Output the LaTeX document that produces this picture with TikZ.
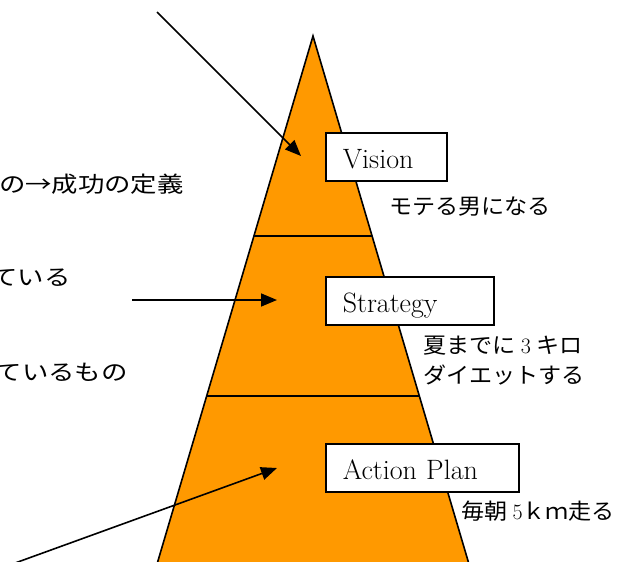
\documentclass[tikz,border=0pt]{standalone}
\usepackage{fontspec}
\newfontfamily\jfont[FakeStretch=1.05]{Noto Sans CJK JP}
\newfontfamily\jwide[FakeStretch=1.2]{Noto Sans CJK JP}
\usepackage{tikz}
\usetikzlibrary{calc}
\usetikzlibrary{arrows.meta}
\definecolor{pyramid}{RGB}{255,153,0}
\tikzset{levelbox/.style={draw, line width=1.6pt, fill=white, anchor=north west,
    align=left, inner xsep=17pt, inner ysep=10pt, text height=26pt, text depth=2pt,
    font=\fontsize{28}{32}\selectfont}}
\tikzset{note/.style={anchor=west, align=left, inner sep=0pt, font=\fontsize{22}{30}\jfont}}
\tikzset{side/.style={anchor=east, inner sep=0pt, font=\fontsize{22}{26}\jwide}}
\tikzset{pointer/.style={line width=1.6pt, -{Triangle[length=16pt,width=13pt]}}}

\begin{document}
\begin{tikzpicture}[x=1pt,y=-1pt]
  \useasboundingbox (0,0) rectangle (625,562);
  \clip (0,0) rectangle (625,562);

  % pyramid, running off the bottom
  \coordinate (top) at (313,36);
  \coordinate (bl) at (147,598);
  \coordinate (br) at (479,598);
  \filldraw[fill=pyramid, line width=1.6pt, line join=miter] (top) -- (bl) -- (br) -- cycle;
  \foreach \f in {200,360} {
    \draw[line width=1.6pt] ($(top)!{\f/562}!(bl)$) -- ($(top)!{\f/562}!(br)$);
  }

  % arrows into the three layers
  \coordinate (s1) at (157,12);
  \coordinate (t1) at (301,156);
  \coordinate (s2) at (132,300);
  \coordinate (t2) at (277,300);
  \coordinate (s3) at (0,568.5);
  \coordinate (t3) at (277,468);
  \foreach \i in {1,2,3} {
    \draw[pointer] (s\i) -- (t\i);
  }

  % layer names
  \foreach \y/\w/\lab/\txt in {
    132/87/vision/Vision,
    276/134/strategy/Strategy,
    443/159/action/Action Plan%
  } {
    \node[levelbox, text width=\w pt] (\lab) at (325,\y) {\txt};
  }

  % examples beside each layer
  \node[note] (ex1) at (389,207) {モテる男になる};
  \node[note] (ex2) at (423,361) {夏までに {\rmfamily 3} キロ\\ダイエットする};
  \node[note] (ex3) at (461,511) {毎朝 {\rmfamily 5}ｋｍ走る};

  % captions on the left
  \node[side] (c1) at (184,184) {の→成功の定義};
  \node[side] (c2) at (71,278) {ている};
  \node[side] (c3) at (128,372) {ているもの};
\end{tikzpicture}
\end{document}
